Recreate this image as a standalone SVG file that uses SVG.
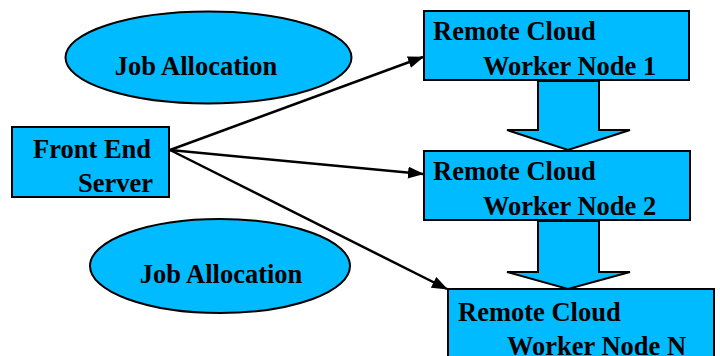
<svg xmlns="http://www.w3.org/2000/svg" width="720" height="356" viewBox="0 0 720 356">
<defs>
<style>
.shape{fill:#00BBFF;stroke:#000;stroke-width:2}
.t{font-family:"Liberation Serif","Times New Roman",serif;font-weight:bold;font-size:26.5px;fill:#000}
.conn{stroke:#000;stroke-width:2.5;fill:none}
</style>
<marker id="ah" markerWidth="16" markerHeight="12" refX="15" refY="6" orient="auto" markerUnits="userSpaceOnUse" viewBox="0 0 16 12">
<path d="M0,0 L16,6 L0,12 z" fill="#000"/>
</marker>
</defs>
<rect width="720" height="356" fill="#fff"/>
<g id="connectors">
<line class="conn" x1="170" y1="150" x2="423" y2="57" marker-end="url(#ah)"/>
<line class="conn" x1="170" y1="150" x2="423" y2="174" marker-end="url(#ah)"/>
<line class="conn" x1="170" y1="150" x2="447" y2="289" marker-end="url(#ah)"/>
<path class="shape" d="M538,81 L599,81 L599,130 L630,130 L568,150 L507,130 L538,130 z"/>
<path class="shape" d="M538,221 L599,221 L599,272 L630,272 L568,289 L507,272 L538,272 z"/>
</g>
<g id="job1">
<ellipse class="shape" cx="208.5" cy="57.5" rx="143" ry="46"/>
<text class="t" x="196" y="75" text-anchor="middle">Job Allocation</text>
</g>
<g id="job2">
<ellipse class="shape" cx="220" cy="266" rx="130" ry="47"/>
<text class="t" x="221" y="283" text-anchor="middle">Job Allocation</text>
</g>
<g id="frontend">
<rect class="shape" x="12" y="127" width="157" height="70"/>
<text class="t" x="33" y="158">Front End</text>
<text class="t" x="78" y="192">Server</text>
</g>
<g id="worker1">
<rect class="shape" x="424" y="11" width="265" height="69"/>
<text class="t" x="433" y="40">Remote Cloud</text>
<text class="t" x="483" y="75">Worker Node 1</text>
</g>
<g id="worker2">
<rect class="shape" x="424" y="151" width="266" height="69"/>
<text class="t" x="433" y="180">Remote Cloud</text>
<text class="t" x="483" y="215">Worker Node 2</text>
</g>
<g id="workerN">
<rect class="shape" x="448" y="289" width="266" height="80"/>
<text class="t" x="458" y="321">Remote Cloud</text>
<text class="t" x="507" y="355">Worker Node N</text>
</g>
</svg>
